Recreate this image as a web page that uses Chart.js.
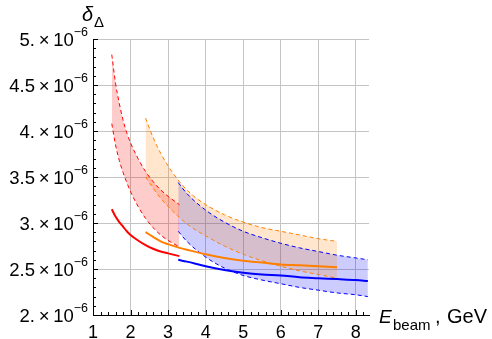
<!DOCTYPE html>
<html>
<head>
<meta charset="utf-8">
<script src="https://cdn.jsdelivr.net/npm/chart.js@4"></script>
<style>
  html, body { margin: 0; padding: 0; background: #fff; }
  #wrap { width: 492px; height: 339px; }
</style>
</head>
<body>
<div id="wrap"><canvas id="myChart" width="492" height="339"></canvas></div>
<script>
// values in units of 10^-6
const redX = [1.5, 1.6, 1.7, 1.8, 1.9, 2.0, 2.2, 2.4, 2.6, 2.8, 3.0, 3.3];
const redUpper = [4.83, 4.52, 4.30, 4.12, 3.98, 3.87, 3.70, 3.56, 3.45, 3.36, 3.29, 3.20];
const redLower = [4.08, 3.85, 3.68, 3.55, 3.44, 3.34, 3.18, 3.05, 2.95, 2.87, 2.81, 2.74];
const redMid = [3.15, 3.07, 3.01, 2.96, 2.91, 2.87, 2.81, 2.76, 2.72, 2.69, 2.67, 2.64];

const orangeX = [2.4, 2.6, 2.8, 3.0, 3.3, 3.6, 4.0, 4.5, 5.0, 5.5, 6.0, 6.5, 7.0, 7.5];
const orangeUpper = [4.14, 3.93, 3.76, 3.62, 3.45, 3.32, 3.20, 3.09, 3.01, 2.95, 2.91, 2.87, 2.83, 2.80];
const orangeLower = [3.50, 3.38, 3.27, 3.18, 3.06, 2.96, 2.86, 2.75, 2.66, 2.59, 2.53, 2.48, 2.44, 2.40];
const orangeMid = [2.90, 2.85, 2.80, 2.77, 2.73, 2.70, 2.66, 2.62, 2.59, 2.57, 2.55, 2.54, 2.53, 2.52];

const blueX = [3.27, 3.5, 4.0, 4.5, 5.0, 5.5, 6.0, 6.5, 7.0, 7.5, 8.0, 8.32];
const blueUpper = [3.44, 3.32, 3.14, 3.01, 2.91, 2.84, 2.78, 2.73, 2.69, 2.65, 2.62, 2.60];
const blueLower = [2.91, 2.80, 2.63, 2.51, 2.43, 2.38, 2.34, 2.30, 2.27, 2.24, 2.22, 2.20];
const blueMid = [2.60, 2.58, 2.53, 2.49, 2.46, 2.44, 2.43, 2.41, 2.40, 2.39, 2.38, 2.37];

const xTickValues = [1, 2, 3, 4, 5, 6, 7, 8];
const yTickValues = [2, 2.5, 3, 3.5, 4, 4.5, 5];
const yTickLabels = ["2.", "2.5", "3.", "3.5", "4.", "4.5", "5."];

const RED = "rgb(255, 0, 0)";
const ORANGE = "rgb(255, 128, 0)";
const BLUE = "rgb(0, 0, 255)";

function pts(xs, ys) {
  return xs.map((x, i) => ({ x: x, y: ys[i] }));
}

function band(xs, ys, color, fill) {
  return {
    data: pts(xs, ys),
    borderColor: color,
    borderWidth: 1,
    borderDash: [4, 3],
    pointRadius: 0,
    cubicInterpolationMode: "monotone",
    fill: fill ? "+1" : false,
    backgroundColor: fill || "transparent",
    order: 1,
  };
}

function solid(xs, ys, color) {
  return {
    data: pts(xs, ys),
    borderColor: color,
    borderWidth: 2,
    pointRadius: 0,
    cubicInterpolationMode: "monotone",
    fill: false,
    order: 0,
  };
}

const FONT = "'Liberation Sans', Arial, sans-serif";

// inward ticks, y tick labels with exponents, axis titles
const decor = {
  id: "decor",
  afterDraw(chart) {
    const ctx = chart.ctx;
    const xs = chart.scales.x;
    const ys = chart.scales.y;
    const a = chart.chartArea;
    ctx.save();
    ctx.strokeStyle = "#000";
    ctx.lineWidth = 1;
    ctx.beginPath();
    for (let i = 0; i <= 36; i++) {
      const v = 1 + i * 0.2;
      if (v > xs.max) break;
      const px = Math.round(xs.getPixelForValue(v)) + 0.5;
      const len = i % 5 === 0 ? 5 : 3;
      ctx.moveTo(px, a.bottom);
      ctx.lineTo(px, a.bottom - len);
    }
    for (let i = 0; i <= 30; i++) {
      const v = 2 + i * 0.1;
      const py = Math.round(ys.getPixelForValue(v)) + 0.5;
      const len = i % 5 === 0 ? 5 : 3;
      ctx.moveTo(a.left, py);
      ctx.lineTo(a.left + len, py);
    }
    ctx.stroke();

    ctx.fillStyle = "#000";
    ctx.textBaseline = "alphabetic";
    yTickValues.forEach((v, i) => {
      const py = ys.getPixelForValue(v);
      ctx.font = "18.5px " + FONT;
      const base = yTickLabels[i] + "\u2009\u00d7\u200910";
      const w1 = ctx.measureText(base).width;
      ctx.font = "12.5px " + FONT;
      const w2 = ctx.measureText("\u22126").width;
      const x0 = 88 - w1 - w2;
      ctx.font = "18.5px " + FONT;
      ctx.fillText(base, x0, py + 6.5);
      ctx.font = "12.5px " + FONT;
      ctx.fillText("\u22126", x0 + w1, py - 3);
    });

    ctx.font = "italic 20px " + FONT;
    ctx.fillText("\u03b4", 82, 21);
    ctx.font = "15px " + FONT;
    ctx.fillText("\u0394", 94, 27);

    ctx.font = "italic 19px " + FONT;
    ctx.fillText("E", 379, 323);
    ctx.font = "15px " + FONT;
    ctx.fillText("beam", 393, 330);
    ctx.font = "20px " + FONT;
    ctx.fillText(",", 435, 323);
    ctx.fillText("GeV", 447, 323);
    ctx.restore();
  },
};

const config = {
  type: "line",
  data: {
    datasets: [
      band(redX, redUpper, RED, "rgba(255, 0, 0, 0.2)"),
      band(redX, redLower, RED, null),
      band(orangeX, orangeUpper, ORANGE, "rgba(255, 128, 0, 0.2)"),
      band(orangeX, orangeLower, ORANGE, null),
      band(blueX, blueUpper, BLUE, "rgba(0, 0, 255, 0.2)"),
      band(blueX, blueLower, BLUE, null),
      solid(redX, redMid, RED),
      solid(orangeX, orangeMid, ORANGE),
      solid(blueX, blueMid, BLUE),
    ],
  },
  options: {
    responsive: false,
    animation: false,
    devicePixelRatio: 1,
    layout: { padding: { left: 0, right: 123, top: 39, bottom: 0 } },
    plugins: {
      legend: { display: false },
      tooltip: { enabled: false },
      filler: { drawTime: "beforeDatasetsDraw" },
    },
    scales: {
      x: {
        type: "linear",
        min: 1,
        max: 8.35,
        ticks: {
          color: "#000",
          padding: 7,
          font: { size: 18, family: FONT },
          maxRotation: 0,
          autoSkip: false,
        },
        afterBuildTicks: (s) => {
          s.ticks = xTickValues.map((v) => ({ value: v }));
        },
        afterFit: (s) => {
          s.height = 24;
        },
        grid: { color: "#c4c4c4", lineWidth: 1, drawTicks: false },
        border: { color: "#000", width: 1 },
      },
      y: {
        type: "linear",
        min: 2,
        max: 5,
        ticks: { display: false },
        afterBuildTicks: (s) => {
          s.ticks = yTickValues.map((v) => ({ value: v }));
        },
        afterFit: (s) => {
          s.width = 93;
        },
        grid: { color: "#c4c4c4", lineWidth: 1, drawTicks: false },
        border: { color: "#000", width: 1 },
      },
    },
  },
  plugins: [decor],
};

let myChart = new Chart(document.getElementById("myChart"), config);
</script>
</body>
</html>
